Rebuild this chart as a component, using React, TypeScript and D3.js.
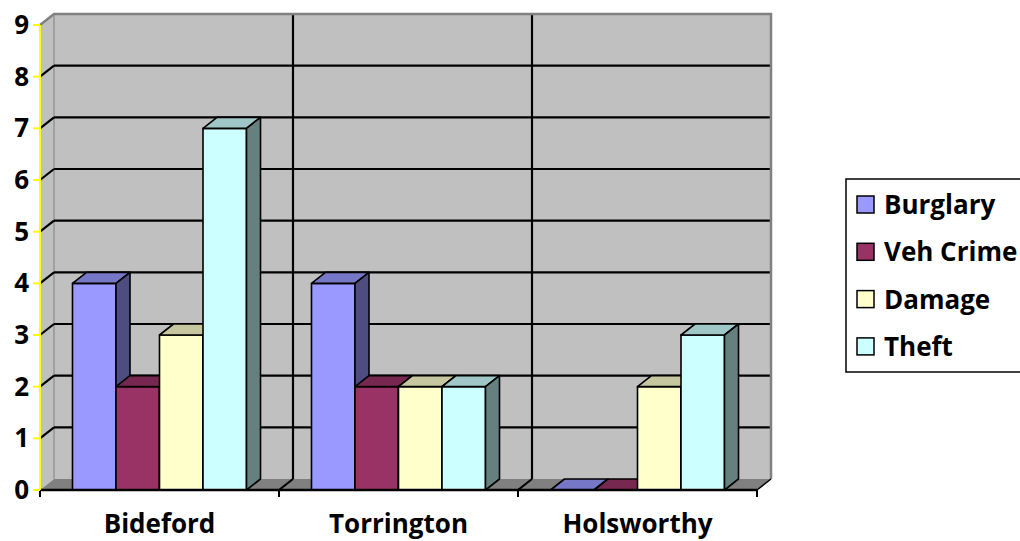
import React from "react";
import * as d3 from "d3";

const categories = ["Bideford", "Torrington", "Holsworthy"];
const seriesNames = ["Burglary", "Veh Crime", "Damage", "Theft"];
const burglary = [4, 4, 0];
const vehCrime = [2, 2, 0];
const damage = [3, 2, 2];
const theft = [7, 2, 3];
const seriesValues = [burglary, vehCrime, damage, theft];
const seriesColors = ["#9999FF", "#993366", "#FFFFCC", "#CCFFFF"];
const yTicks = [0, 1, 2, 3, 4, 5, 6, 7, 8, 9];

const W = 1020;
const H = 541;
const DX = 14;
const DY = -11;
const FONT = "'Open Sans', Lato, sans-serif";

function shade(c: string, k: number) {
  const col = d3.rgb(c);
  return d3.rgb(col.r * k, col.g * k, col.b * k).formatHex();
}

export default function App() {
  const y = d3.scaleLinear().domain([0, 9]).range([490, 25]);
  const x = d3.scaleBand<string>().domain(categories).range([40, 757]).padding(0);
  const xs = d3
    .scaleBand<string>()
    .domain(seriesNames)
    .range([0, x.bandwidth()])
    .paddingInner(0)
    .paddingOuter(0.747);

  const y0 = y(0);
  const yTop = y(9);
  const xL = x.range()[0];
  const xR = x.range()[1];
  const boundaries = [xL, ...categories.slice(1).map((c) => x(c) as number), xR];

  const pts = (p: [number, number][]) => p.map((q) => q.join(",")).join(" ");

  const bars: React.ReactNode[] = [];
  categories.forEach((c, ci) => {
    seriesNames.forEach((s, si) => {
      const v = seriesValues[si][ci];
      const bx = (x(c) as number) + (xs(s) as number);
      const bw = xs.bandwidth();
      const by = y(v);
      const col = seriesColors[si];
      const sw = 1.6;
      bars.push(
        <g key={`${c}-${s}`} stroke="#000" strokeWidth={sw} strokeLinejoin="round">
          {v > 0 && <rect x={bx} y={by} width={bw} height={y0 - by} fill={col} />}
          <polygon
            points={pts([
              [bx, by],
              [bx + DX, by + DY],
              [bx + bw + DX, by + DY],
              [bx + bw, by],
            ])}
            fill={shade(col, 0.78)}
          />
          {v > 0 && (
            <polygon
              points={pts([
                [bx + bw, by],
                [bx + bw + DX, by + DY],
                [bx + bw + DX, y0 + DY],
                [bx + bw, y0],
              ])}
              fill={shade(col, 0.5)}
            />
          )}
        </g>
      );
    });
  });

  const legendTop = 179;
  const legendStep = 47.3;

  return (
    <svg
      width={W}
      height={H}
      viewBox={`0 0 ${W} ${H}`}
      style={{ position: "absolute", left: 0, top: 0, background: "#fff" }}
    >
      {/* back wall */}
      <rect x={xL + DX} y={yTop + DY} width={xR - xL} height={y0 - yTop} fill="#C0C0C0" />
      {/* left wall */}
      <polygon
        points={pts([
          [xL, yTop],
          [xL + DX, yTop + DY],
          [xL + DX, y0 + DY],
          [xL, y0],
        ])}
        fill="#C0C0C0"
      />
      <line x1={xL + DX} x2={xL + DX} y1={yTop + DY} y2={y0 + DY} stroke="#A0A0A0" strokeWidth={2} />
      {/* floor */}
      <polygon
        points={pts([
          [xL, y0],
          [xL + DX, y0 + DY],
          [xR + DX, y0 + DY],
          [xR, y0],
        ])}
        fill="#808080"
      />
      {/* horizontal gridlines */}
      {yTicks.filter((t) => t > 0 && t < 9).map((t) => (
        <g key={`g${t}`} stroke="#000" strokeWidth={2.2}>
          <line x1={xL + DX} x2={xR + DX} y1={y(t) + DY} y2={y(t) + DY} />
          <line x1={xL} x2={xL + DX} y1={y(t)} y2={y(t) + DY} />
        </g>
      ))}
      {/* vertical gridlines */}
      {boundaries.slice(1, -1).map((b, i) => (
        <g key={`v${i}`} stroke="#000" strokeWidth={2.2}>
          <line x1={b + DX} x2={b + DX} y1={yTop + DY} y2={y0 + DY} />
          <line x1={b} x2={b + DX} y1={y0} y2={y0 + DY} />
        </g>
      ))}
      {/* wall borders */}
      <polyline
        points={pts([
          [xL, yTop],
          [xL + DX, yTop + DY],
          [xR + DX, yTop + DY],
          [xR + DX, y0 + DY],
        ])}
        fill="none"
        stroke="#808080"
        strokeWidth={2.5}
      />
      <line x1={xR} x2={xR + DX} y1={y0} y2={y0 + DY} stroke="#000" strokeWidth={1.5} />
      {bars}
      {/* x axis */}
      <line x1={xL} x2={xR} y1={y0} y2={y0} stroke="#000" strokeWidth={2.5} />
      {boundaries.map((b, i) => (
        <line key={`xt${i}`} x1={b} x2={b} y1={y0} y2={y0 + 7} stroke="#000" strokeWidth={2} />
      ))}
      {categories.map((c) => (
        <text
          key={c}
          x={(x(c) as number) + x.bandwidth() / 2}
          y={533}
          textAnchor="middle"
          fontFamily={FONT}
          fontWeight={700}
          fontSize={26}
          fill="#000"
        >
          {c}
        </text>
      ))}
      {/* y axis */}
      <line x1={xL} x2={xL} y1={yTop} y2={y0} stroke="#FFFF00" strokeWidth={2} />
      {yTicks.map((t) => (
        <g key={`yt${t}`}>
          <line x1={xL - 7} x2={xL} y1={y(t)} y2={y(t)} stroke="#FFFF00" strokeWidth={2} />
          <text
            x={29}
            y={y(t) + 9}
            textAnchor="end"
            fontFamily={FONT}
            fontWeight={700}
            fontSize={26}
            fill="#000"
          >
            {t}
          </text>
        </g>
      ))}
      {/* legend */}
      <rect x={846} y={legendTop} width={240} height={193} fill="#fff" stroke="#000" strokeWidth={1.5} />
      {seriesNames.map((s, i) => {
        const cy = 204.5 + i * legendStep;
        return (
          <g key={`lg${s}`}>
            <rect x={857} y={cy - 8.5} width={17} height={17} fill={seriesColors[i]} stroke="#000" strokeWidth={1.5} />
            <text x={884} y={cy + 9.5} fontFamily={FONT} fontWeight={700} fontSize={26} fill="#000">
              {s}
            </text>
          </g>
        );
      })}
    </svg>
  );
}
